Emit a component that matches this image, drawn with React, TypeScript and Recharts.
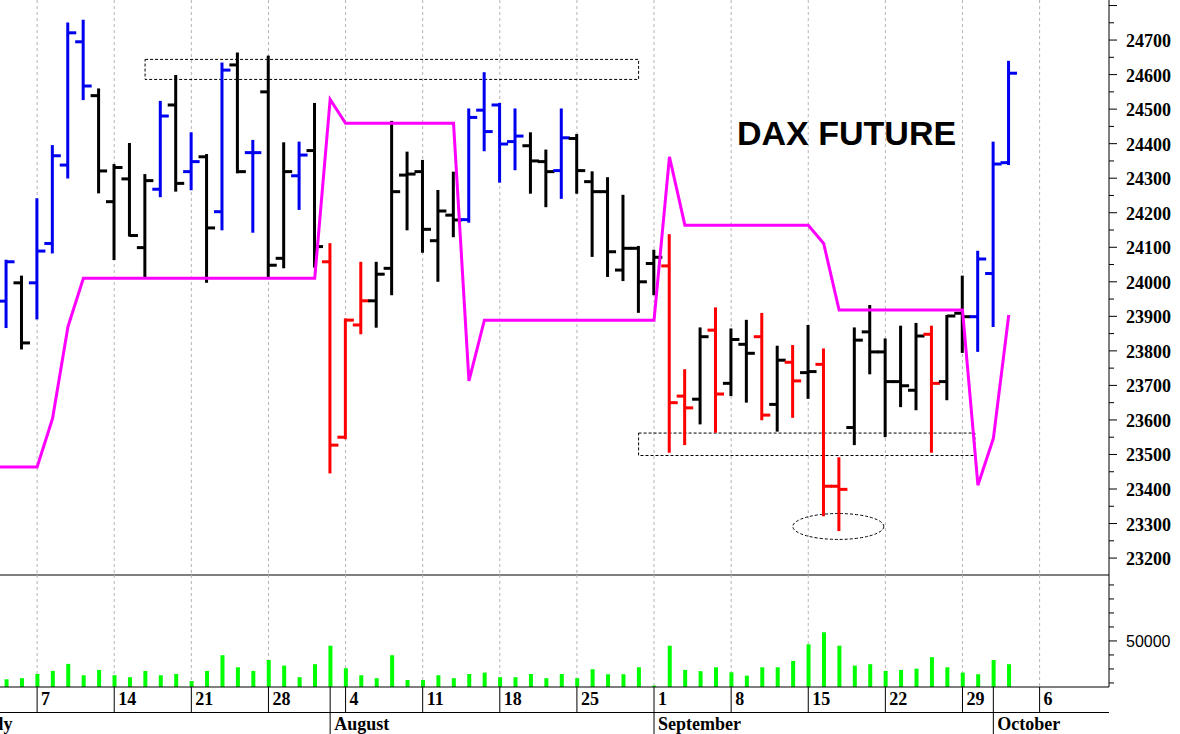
import React from "react";
import {
  ComposedChart,
  Bar,
  Line,
  XAxis,
  YAxis,
  CartesianGrid,
  ReferenceArea,
} from "recharts";

// trading days, Jul 1 .. Oct 6 2025
const dates = [
  "2025-07-01", "2025-07-02", "2025-07-03", "2025-07-04",
  "2025-07-07", "2025-07-08", "2025-07-09", "2025-07-10", "2025-07-11",
  "2025-07-14", "2025-07-15", "2025-07-16", "2025-07-17", "2025-07-18",
  "2025-07-21", "2025-07-22", "2025-07-23", "2025-07-24", "2025-07-25",
  "2025-07-28", "2025-07-29", "2025-07-30", "2025-07-31", "2025-08-01",
  "2025-08-04", "2025-08-05", "2025-08-06", "2025-08-07", "2025-08-08",
  "2025-08-11", "2025-08-12", "2025-08-13", "2025-08-14", "2025-08-15",
  "2025-08-18", "2025-08-19", "2025-08-20", "2025-08-21", "2025-08-22",
  "2025-08-25", "2025-08-26", "2025-08-27", "2025-08-28", "2025-08-29",
  "2025-09-01", "2025-09-02", "2025-09-03", "2025-09-04", "2025-09-05",
  "2025-09-08", "2025-09-09", "2025-09-10", "2025-09-11", "2025-09-12",
  "2025-09-15", "2025-09-16", "2025-09-17", "2025-09-18", "2025-09-19",
  "2025-09-22", "2025-09-23", "2025-09-24", "2025-09-25", "2025-09-26",
  "2025-09-29", "2025-09-30", "2025-10-01", "2025-10-02", "2025-10-03",
  "2025-10-06",
];

const monthNames = ["July", "August", "September", "October"];

const opens = [
  null, null, 23944, 23997,
  23997, 24111, 24338, 24695, 24539,
  24232, 24298, 24099, 24268, 24512,
  24319, 24362, 24203, 24628, 24374,
  24550, 24068, 24307, 24380, 24058,
  23550, 23875, 23945, 24039, 24309,
  24319, 24119, 24193, 24180, 24497,
  24512, 24406, 24394, 24348, 24322,
  24415, 24290, 24261, 24034, 24097,
  24053, 24046, 23669, 23660, 23860,
  23706, 23819, 23841, 23645, 23767,
  23737, 23761, 23408, 23578, 23855,
  23797, 23711, 23686, 23848, 23711,
  23909, 23899, 24024, 24345, null, null,
];

const highs = [
  null, null, 24061, 24015,
  24239, 24393, 24748, 24756, 24557,
  24338, 24399, 24309, 24521, 24596,
  24430, 24367, 24632, 24661, 24408,
  24652, 24401, 24403, 24515, 24109,
  23891, 24055, 24055, 24463, 24374,
  24350, 24263, 24316, 24499, 24604,
  24515, 24499, 24430, 24380, 24499,
  24425, 24317, 24300, 24249, 24101,
  24090, 24135, 23744, 23865, 23923,
  23862, 23887, 23907, 23812, 23814,
  23872, 23804, 23489, 23865, 23930,
  23833, 23870, 23878, 23870, 23901,
  24015, 24087, 24403, 24637, null, null,
];

const lows = [
  null, null, 23869, 23807,
  23894, 24085, 24302, 24529, 24259,
  24066, 24134, 24015, 24248, 24264,
  24268, 24000, 24152, 24317, 24145,
  24015, 24042, 24211, 24044, 23448,
  23547, 23851, 23870, 23964, 24152,
  24087, 24003, 24132, 24174, 24381,
  24290, 24326, 24258, 24219, 24243,
  24258, 24075, 24017, 24005, 23913,
  23964, 23508, 23530, 23590, 23566,
  23672, 23653, 23602, 23569, 23609,
  23664, 23324, 23281, 23530, 23735,
  23553, 23640, 23631, 23508, 23660,
  23797, 23800, 23872, 24341, null, null,
];

const closes = [
  null, null, 24058, 23823,
  24089, 24365, 24721, 24567, 24321,
  24331, 24134, 24293, 24480, 24285,
  24348, 24156, 24613, 24319, 24374,
  24048, 24319, 24367, 24102, 23527,
  23889, 23945, 24022, 24261, 24312,
  24152, 24205, 24179, 24476, 24435,
  24399, 24422, 24350, 24319, 24417,
  24322, 24261, 24087, 24097, 24000,
  24071, 23650, 23635, 23841, 23675,
  23833, 23793, 23614, 23773, 23713,
  23740, 23408, 23399, 23831, 23797,
  23711, 23699, 23843, 23706, 23901,
  23899, 24066, 24341, 24604, null, null,
];

// b = blue, k = black, r = red
const barColors = [
  "", "", "b", "k",
  "b", "b", "b", "b", "k",
  "k", "k", "k", "b", "k",
  "b", "k", "b", "k", "b",
  "k", "k", "b", "k", "r",
  "r", "r", "k", "k", "k",
  "k", "k", "k", "b", "b",
  "b", "b", "k", "k", "b",
  "k", "k", "k", "k", "k",
  "k", "r", "r", "k", "r",
  "k", "k", "r", "k", "r",
  "k", "r", "r", "k", "k",
  "k", "k", "k", "r", "k",
  "k", "b", "b", "b", "", "",
];

const stopLine = [
  23464, 23464, 23464, 23464,
  23464, 23604, 23870, 24010, 24010,
  24010, 24010, 24010, 24010, 24010,
  24010, 24010, 24010, 24010, 24010,
  24010, 24010, 24010, 24010, 24528,
  24459, 24459, 24459, 24459, 24459,
  24459, 24459, 24459, 23713, 23889,
  23889, 23889, 23889, 23889, 23889,
  23889, 23889, 23889, 23889, 23889,
  23889, 24362, 24164, 24164, 24164,
  24164, 24164, 24164, 24164, 24164,
  24164, 24111, 23918, 23918, 23918,
  23918, 23918, 23918, 23918, 23918,
  23918, 23411, 23546, 23904, null, null,
];

const volumes = [
  null, null, 22600, 23400,
  26400, 28600, 33600, 25500, 29300,
  25500, 24100, 28600, 25500, 26400,
  21400, 28600, 39800, 31200, 28600,
  36400, 32400, 24100, 33400, 46600,
  30500, 25500, 23400, 39800, 22100,
  22100, 25500, 23400, 26400, 27400,
  24100, 24100, 26400, 23400, 26400,
  23400, 29800, 26200, 26200, 31200,
  18100, 46600, 29300, 28400, 31200,
  27600, 25200, 31200, 31200, 35700,
  47600, 56200, 46600, 32400, 33400,
  28600, 29300, 30200, 38400, 31200,
  27400, 26200, 36400, 33400, null, null,
];

const priceLabels = [
  23200, 23300, 23400, 23500, 23600, 23700, 23800, 23900,
  24000, 24100, 24200, 24300, 24400, 24500, 24600, 24700,
];
const volumeTicks = [20000, 30000, 40000, 50000, 60000, 70000, 80000, 90000];
const volumeLabels = [50000];

// annotations (in data space)
const topBox = { x1: 11, x2: 43, y1: 24586, y2: 24644 };
const lowBox = { x1: 43, x2: 64.8, y1: 23497, y2: 23562 };
const lowOval = { x1: 53, x2: 58.9, y1: 23254, y2: 23329 };

const COLORS: Record<string, string> = { b: "#0000f0", k: "#000000", r: "#ff0000" };
const SERIF = "'Liberation Serif', 'Times New Roman', serif";
const SANS = "'Liberation Sans', Arial, sans-serif";

const rows = dates.map((d, i) => ({
  i,
  date: d,
  open: opens[i],
  high: highs[i],
  low: lows[i],
  close: closes[i],
  color: barColors[i],
  stop: stopLine[i],
  vol: volumes[i],
}));

const dayOf = (d: string) => Number(d.slice(8, 10));
const monthOf = (d: string) => Number(d.slice(5, 7));
const mondays = dates
  .map((d, i) => (new Date(d + "T00:00:00Z").getUTCDay() === 1 ? i : -1))
  .filter((i) => i >= 0);
const monthStarts = dates
  .map((d, i) => (i === 0 || monthOf(dates[i - 1]) !== monthOf(d) ? i : -1))
  .filter((i) => i >= 0);
const xTicks = Array.from(new Set([...mondays, ...monthStarts])).sort((a, b) => a - b);

const priceTicks: number[] = [];
priceLabels.forEach((v) => priceTicks.push(v, v + 50));
priceTicks.push(24800);

const X_DOMAIN: [number, number] = [-1, 73.5];
const CHART_W = 1220;
const AXIS_W = 71;
const LEFT = -39.7;

// grid lines on Mondays, through the x axis scale
const mondayGrid = ({ xAxis, offset }: any) =>
  mondays.map((m) =>
    xAxis && typeof xAxis.scale === "function"
      ? xAxis.scale(m)
      : offset.left + ((m - X_DOMAIN[0]) / (X_DOMAIN[1] - X_DOMAIN[0])) * offset.width
  );

const OhlcShape = (props: any) => {
  const { x, y, width, height, payload } = props;
  if (payload == null || payload.high == null) return null;
  const top = Math.min(y, y + height);
  const bottom = Math.max(y, y + height);
  const span = payload.high - payload.low || 1;
  const toY = (p: number) => top + ((payload.high - p) / span) * (bottom - top);
  const cx = x + width / 2;
  const color = COLORS[payload.color];
  const yo = toY(payload.open);
  const yc = toY(payload.close);
  return (
    <g>
      <rect x={cx - 1.5} y={top - 1} width={3} height={bottom - top + 2} fill={color} />
      <rect x={cx - 8} y={yo - 1.5} width={8} height={3} fill={color} />
      <rect x={cx} y={yc - 1.5} width={8.5} height={3} fill={color} />
    </g>
  );
};

const PriceTick = ({ x, y, payload }: any) => {
  const v = payload.value;
  const major = v % 100 === 0;
  return (
    <g>
      <line x1={x} x2={x + (major ? 8 : 5)} y1={y} y2={y} stroke="#000" />
      {major && priceLabels.includes(v) && (
        <text x={x + 17} y={y + 7} fontFamily={SERIF} fontWeight="bold" fontSize={18} fill="#000">
          {v}
        </text>
      )}
    </g>
  );
};

const VolumeTick = ({ x, y, payload }: any) => {
  const v = payload.value;
  const labeled = volumeLabels.includes(v);
  return (
    <g>
      <line x1={x} x2={x + (labeled ? 8 : 5)} y1={y} y2={y} stroke="#000" />
      {labeled && (
        <text x={x + 17} y={y + 6} fontFamily={SANS} fontSize={16} fill="#000">
          {v}
        </text>
      )}
    </g>
  );
};

const DayTick = ({ x, y, payload }: any) => {
  const i = payload.value;
  const d = dates[i];
  const isMonday = mondays.includes(i);
  const isMonth = monthStarts.includes(i);
  return (
    <g>
      <line x1={x} x2={x} y1={y} y2={y + (isMonth ? 48 : 25)} stroke="#000" />
      {isMonday && (
        <text x={x + 4} y={y + 18} fontFamily={SERIF} fontWeight="bold" fontSize={18} fill="#000">
          {dayOf(d)}
        </text>
      )}
      {isMonth && (
        <text x={x + 4} y={y + 43} fontFamily={SERIF} fontWeight="bold" fontSize={18} fill="#000">
          {monthNames[monthOf(d) - 7]}
        </text>
      )}
    </g>
  );
};

export default function App() {
  return (
    <div
      style={{
        position: "absolute",
        left: 0,
        top: 0,
        width: 1180,
        height: 734,
        overflow: "hidden",
        background: "#fff",
      }}
    >
      <div style={{ position: "absolute", left: LEFT, top: 0 }}>
        <ComposedChart
          width={CHART_W}
          height={576}
          data={rows}
          margin={{ top: 0, right: 0, bottom: 0, left: 0 }}
        >
          <CartesianGrid
            horizontal={false}
            vertical
            stroke="#b4b4b4"
            strokeDasharray="3 3"
            verticalCoordinatesGenerator={mondayGrid}
          />
          <XAxis
            dataKey="i"
            type="number"
            domain={X_DOMAIN}
            allowDataOverflow
            height={1}
            tick={false}
            tickLine={false}
            axisLine={{ stroke: "#000" }}
          />
          <YAxis
            orientation="right"
            width={AXIS_W}
            domain={[23151, 24816]}
            allowDataOverflow
            ticks={priceTicks}
            interval={0}
            tickSize={0}
            tickMargin={0}
            tickLine={false}
            axisLine={{ stroke: "#000" }}
            tick={(p: any) => <PriceTick {...p} />}
          />
          <ReferenceArea
            {...topBox}
            fill="none"
            stroke="#000"
            strokeDasharray="3 2"
            strokeWidth={1}
          />
          <ReferenceArea
            {...lowBox}
            fill="none"
            stroke="#000"
            strokeDasharray="3 2"
            strokeWidth={1}
          />
          <ReferenceArea
            {...lowOval}
            shape={(p: any) => (
              <ellipse
                cx={p.x + p.width / 2}
                cy={p.y + p.height / 2}
                rx={Math.abs(p.width) / 2}
                ry={Math.abs(p.height) / 2}
                fill="none"
                stroke="#000"
                strokeDasharray="3 2"
              />
            )}
          />
          <Bar
            dataKey={(d: any) => (d.high == null ? null : [d.low, d.high])}
            barSize={3}
            shape={(p: any) => <OhlcShape {...p} />}
            isAnimationActive={false}
          />
          <Line
            dataKey="stop"
            type="linear"
            stroke="#ff00ff"
            strokeWidth={3}
            dot={false}
            activeDot={false}
            isAnimationActive={false}
          />
        </ComposedChart>
      </div>

      <div style={{ position: "absolute", left: LEFT, top: 575 }}>
        <ComposedChart
          width={CHART_W}
          height={159}
          data={rows}
          margin={{ top: 0, right: 0, bottom: 0, left: 0 }}
        >
          <CartesianGrid
            horizontal={false}
            vertical
            stroke="#b4b4b4"
            strokeDasharray="3 3"
            verticalCoordinatesGenerator={mondayGrid}
          />
          <XAxis
            dataKey="i"
            type="number"
            domain={X_DOMAIN}
            allowDataOverflow
            height={47}
            ticks={xTicks}
            interval={0}
            tickSize={0}
            tickMargin={0}
            tickLine={false}
            axisLine={{ stroke: "#000" }}
            tick={(p: any) => <DayTick {...p} />}
          />
          <YAxis
            orientation="right"
            width={AXIS_W}
            domain={[17100, 97100]}
            allowDataOverflow
            ticks={volumeTicks}
            interval={0}
            tickSize={0}
            tickMargin={0}
            tickLine={false}
            axisLine={{ stroke: "#000" }}
            tick={(p: any) => <VolumeTick {...p} />}
          />
          <Bar dataKey="vol" fill="#00ff00" barSize={4} isAnimationActive={false} />
        </ComposedChart>
      </div>

      <svg
        width={1180}
        height={734}
        style={{ position: "absolute", left: 0, top: 0, pointerEvents: "none" }}
      >
        <line x1={0} x2={1109} y1={712.5} y2={712.5} stroke="#000" />
        <text x={737} y={145} fontFamily={SANS} fontWeight="bold" fontSize={34} fill="#000">
          DAX FUTURE
        </text>
      </svg>
    </div>
  );
}
